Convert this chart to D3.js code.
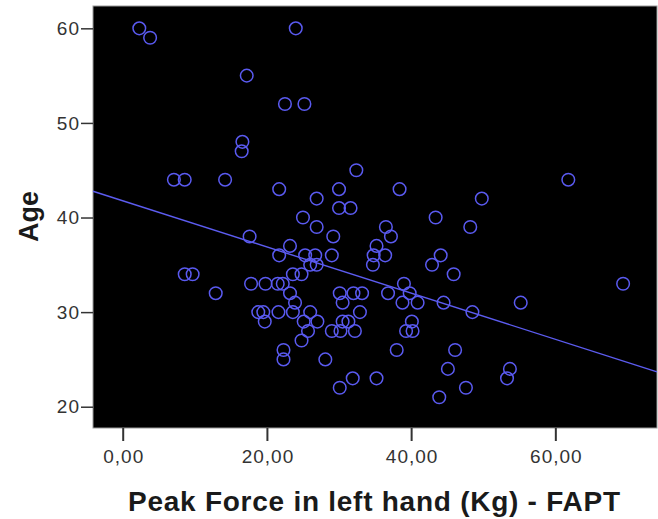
<!DOCTYPE html>
<html>
<head>
<meta charset="utf-8">
<script src="https://cdn.jsdelivr.net/npm/d3@7"></script>
<style>
  body { margin: 0; background: #fff; }
  svg { display: block; }
</style>
</head>
<body>
<div id="wrapper"></div>
<script>
// ---------- DATA ---------------------------------------------------
// peak force in left hand (Kg) and age, one entry per subject
const peakForce = [
  2.3, 24.0, 3.8, 17.2, 22.5, 25.2, 16.6, 16.5, 32.4,
  7.1, 8.6, 14.2, 61.8, 21.7, 30.0, 38.4, 26.9, 49.8,
  30.0, 31.6, 25.0, 43.4, 26.9, 36.5, 48.2, 17.6, 29.2, 37.2,
  23.2, 35.2, 21.7, 25.3, 26.7, 29.0, 34.8, 36.4, 44.1,
  26.0, 26.9, 34.7, 42.9, 8.6, 9.7, 23.6, 24.8, 45.9,
  17.8, 19.8, 21.5, 22.2, 39.0, 69.4,
  12.9, 23.2, 30.1, 32.0, 33.2, 36.8, 39.8,
  23.9, 30.5, 38.8, 40.9, 44.5, 55.2,
  18.8, 19.5, 21.6, 23.6, 26.0, 32.9, 48.5,
  19.7, 25.1, 27.0, 30.5, 31.3, 40.1,
  25.7, 29.0, 30.2, 32.2, 39.3, 40.2,
  24.8, 22.3, 38.0, 46.1, 22.3, 28.1, 45.1, 53.7,
  31.9, 35.2, 53.3, 30.1, 47.6, 43.9
];
const age = [
  60, 60, 59, 55, 52, 52, 48, 47, 45,
  44, 44, 44, 44, 43, 43, 43, 42, 42,
  41, 41, 40, 40, 39, 39, 39, 38, 38, 38,
  37, 37, 36, 36, 36, 36, 36, 36, 36,
  35, 35, 35, 35, 34, 34, 34, 34, 34,
  33, 33, 33, 33, 33, 33,
  32, 32, 32, 32, 32, 32, 32,
  31, 31, 31, 31, 31, 31,
  30, 30, 30, 30, 30, 30, 30,
  29, 29, 29, 29, 29, 29,
  28, 28, 28, 28, 28, 28,
  27, 26, 26, 26, 25, 25, 24, 24,
  23, 23, 23, 22, 22, 21
];
// fit line: intercept and slope
const fitLine = [41.77, -0.244];

const xTicks = [0, 20, 40, 60];
const yTicks = [20, 30, 40, 50, 60];
const xTitle = "Peak Force in left hand (Kg) - FAPT";
const yTitle = "Age";

// ---------- DIMENSIONS ----------------------------------------------
const dimensions = {
  width: 658,
  height: 519,
  margin: { top: 6, right: 1, bottom: 91, left: 93 },
};
dimensions.boundedWidth = dimensions.width - dimensions.margin.left - dimensions.margin.right;
dimensions.boundedHeight = dimensions.height - dimensions.margin.top - dimensions.margin.bottom;

const svg = d3.select("#wrapper").append("svg")
  .attr("width", dimensions.width)
  .attr("height", dimensions.height);

const bounds = svg.append("g")
  .attr("transform", `translate(${dimensions.margin.left},${dimensions.margin.top})`);

// ---------- SCALES --------------------------------------------------
const xDomain = [-4.12, 74.1];
const xScale = d3.scaleLinear().domain(xDomain).range([0, dimensions.boundedWidth]);
const yScale = d3.scaleLinear().domain([17.75, 62.36]).range([dimensions.boundedHeight, 0]);

// plot background
bounds.append("rect")
  .attr("width", dimensions.boundedWidth)
  .attr("height", dimensions.boundedHeight)
  .attr("fill", "#000")
  .attr("stroke", "#999")
  .attr("stroke-width", 1);

// ---------- AXES ----------------------------------------------------
const fmt = d => d3.format(".2f")(d).replace(".", ",");
const xAxis = bounds.append("g")
  .attr("transform", `translate(0,${dimensions.boundedHeight})`)
  .call(d3.axisBottom(xScale).tickValues(xTicks).tickFormat(fmt).tickSize(13).tickPadding(9));
const yAxis = bounds.append("g")
  .call(d3.axisLeft(yScale).tickValues(yTicks).tickFormat(d3.format("d")).tickSize(12).tickPadding(1));

[xAxis, yAxis].forEach(ax => {
  ax.select(".domain").remove();
  ax.selectAll(".tick line").attr("stroke", "#333").attr("stroke-width", 2);
  ax.selectAll(".tick text")
    .attr("fill", "#333")
    .style("font-family", "'Liberation Sans', Arial, sans-serif")
    .style("font-size", "19px")
    .style("letter-spacing", "1px");
});
yAxis.selectAll(".tick line").attr("stroke-width", 1.5);
xAxis.selectAll(".tick text").attr("dx", "0.5px");

// ---------- FIT LINE ------------------------------------------------
const lineGen = d3.line().x(d => xScale(d)).y(d => yScale(fitLine[0] + fitLine[1] * d));
bounds.append("path")
  .datum(xDomain)
  .attr("d", lineGen)
  .attr("fill", "none")
  .attr("stroke", "#5c5cf0")
  .attr("stroke-width", 1.4);

// ---------- POINTS --------------------------------------------------
bounds.append("g").selectAll("circle")
  .data(d3.range(peakForce.length))
  .join("circle")
  .attr("cx", i => xScale(peakForce[i]))
  .attr("cy", i => yScale(age[i]))
  .attr("r", 6.3)
  .attr("fill", "none")
  .attr("stroke", "#5a5af0")
  .attr("stroke-width", 1.5);

// ---------- TITLES --------------------------------------------------
svg.append("text")
  .attr("x", 128)
  .attr("y", 511)
  .attr("textLength", 492)
  .attr("lengthAdjust", "spacing")
  .style("font-family", "'Liberation Sans', Arial, sans-serif")
  .style("font-weight", "bold")
  .style("font-size", "28px")
  .attr("fill", "#1a1a1a")
  .text(xTitle);

svg.append("text")
  .attr("transform", `translate(38,${dimensions.margin.top + yScale(40) - 1}) rotate(-90)`)
  .attr("text-anchor", "middle")
  .style("font-family", "'Liberation Sans', Arial, sans-serif")
  .style("font-weight", "bold")
  .style("font-size", "27px")
  .attr("fill", "#1a1a1a")
  .text(yTitle);
</script>
</body>
</html>
